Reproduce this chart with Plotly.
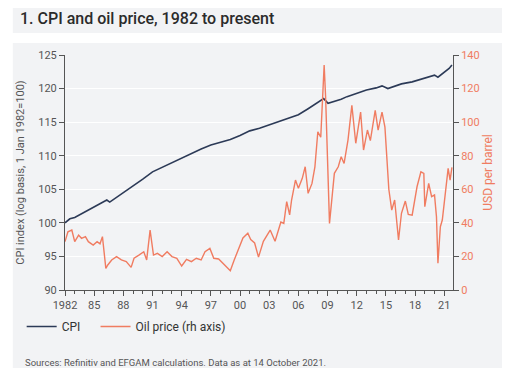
import plotly.graph_objects as go

# ---- data ----
cpi_years = [1982.0, 1982.5, 1983.0, 1984.0, 1985.0, 1986.0, 1986.3, 1986.6, 1987.0, 1988.0, 1989.0,
             1990.0, 1991.0, 1992.0, 1993.0, 1994.0, 1995.0, 1996.0, 1997.0, 1998.0, 1999.0,
             2000.0, 2001.0, 2002.0, 2003.0, 2004.0, 2004.5, 2005.0, 2006.0, 2007.0, 2008.0, 2008.6,
             2009.05, 2009.5, 2010.4, 2011.0, 2011.9, 2013.0, 2014.0, 2014.6, 2015.2, 2016.0,
             2016.6, 2017.7, 2019.0, 2020.0, 2020.35, 2021.0, 2021.5, 2021.79]
cpi_values = [100.0, 100.6, 100.8, 101.6, 102.4, 103.2, 103.4, 103.1, 103.5, 104.4, 105.4,
              106.5, 107.6, 108.3, 109.0, 109.7, 110.4, 111.0, 111.6, 112.0, 112.4,
              113.0, 113.7, 114.1, 114.6, 115.1, 115.4, 115.6, 116.1, 117.0, 117.9, 118.5,
              117.8, 118.0, 118.4, 118.8, 119.3, 119.8, 120.1, 120.4, 120.0, 120.4,
              120.7, 121.0, 121.6, 122.0, 121.7, 122.4, 123.0, 123.5]

oil_years = [1982.0, 1982.3, 1982.7, 1983.0, 1983.4, 1983.7, 1984.1, 1984.4, 1984.9, 1985.3, 1985.6,
             1985.85, 1986.2, 1986.4, 1986.8, 1987.3, 1987.8, 1988.3, 1988.8, 1989.1, 1989.6,
             1990.1, 1990.4, 1990.75, 1991.1, 1991.5, 1992.0, 1992.5, 1993.0, 1993.5, 1994.0,
             1994.5, 1995.0, 1995.5, 1996.0, 1996.4, 1996.9, 1997.3, 1997.8, 1998.4, 1999.0,
             1999.4, 1999.9, 2000.3, 2000.8, 2001.1, 2001.5, 2001.9, 2002.4, 2003.1, 2003.6,
             2004.2, 2004.5, 2004.8, 2005.1, 2005.3, 2005.7, 2006.0, 2006.4, 2006.7, 2007.0,
             2007.4, 2007.7, 2008.0, 2008.3, 2008.5, 2008.65, 2008.8, 2009.05, 2009.2, 2009.5,
             2009.7, 2010.1, 2010.4, 2010.7, 2011.1, 2011.5, 2011.7, 2011.9, 2012.4, 2012.7,
             2013.1, 2013.4, 2013.9, 2014.2, 2014.6, 2014.9, 2015.3, 2015.6, 2015.9, 2016.3,
             2016.6, 2017.0, 2017.3, 2017.7, 2018.2, 2018.6, 2018.9, 2019.0, 2019.4, 2019.7,
             2020.0, 2020.2, 2020.35, 2020.6, 2020.8, 2021.1, 2021.4, 2021.6, 2021.79]
oil_prices = [28.8, 34.7, 35.7, 28.8, 32.7, 30.8, 31.8, 28.8, 26.8, 28.8, 27.5,
              31.8, 12.9, 14.9, 17.9, 19.9, 17.9, 16.9, 13.5, 18.9, 20.8,
              22.8, 17.9, 35.7, 20.8, 21.8, 19.9, 22.8, 19.9, 18.9, 14.3,
              18.3, 16.9, 18.9, 17.9, 22.8, 24.8, 18.9, 18.5, 15.0, 11.5,
              17.9, 24.8, 31.0, 33.8, 30.0, 28.0, 19.6, 29.0, 35.7, 29.0,
              40.5, 39.7, 52.6, 44.7, 53.6, 65.5, 60.6, 66.5, 73.4, 57.6,
              63.5, 73.4, 94.3, 91.0, 121.0, 134.0, 115.0, 57.6, 39.7, 57.6,
              69.5, 73.4, 79.4, 75.4, 89.3, 110.0, 97.3, 87.4, 106.0, 83.4,
              95.3, 89.0, 107.0, 95.3, 106.0, 97.0, 60.0, 47.6, 53.6, 29.8,
              45.7, 53.0, 45.0, 44.6, 61.5, 70.4, 69.5, 49.6, 63.5, 55.6,
              56.6, 43.6, 15.9, 37.7, 41.7, 58.6, 72.5, 65.5, 73.0]

tick_years = [1982, 1985, 1988, 1991, 1994, 1997, 2000, 2003, 2006, 2009, 2012, 2015, 2018, 2021]
tick_labels = ["1982", "85", "88", "91", "94", "97", "00", "03", "06", "09", "12", "15", "18", "21"]

NAVY = "#2c3a57"
SALMON = "#f07c61"
PANEL = "#f2f3f5"
FONT = "Roboto"

# page body has an 8px margin: figure is drawn 8px smaller, all coordinates relative to plot area
fig = go.Figure()
fig.add_trace(go.Scatter(x=cpi_years, y=cpi_values, mode="lines", name="CPI",
                         line=dict(color=NAVY, width=1.6), legend="legend"))
fig.add_trace(go.Scatter(x=oil_years, y=oil_prices, mode="lines", name="Oil price (rh axis)",
                         line=dict(color=SALMON, width=1.4), yaxis="y2", legend="legend2"))

W, H = 394, 235  # plot-area size in px
leg_common = dict(orientation="h", y=(290 - 312) / H, xanchor="left", yanchor="top",
                  font=dict(size=12, color="#333", family=FONT), bgcolor="rgba(0,0,0,0)",
                  itemwidth=30)
fig.update_layout(
    width=502, height=374,
    margin=dict(l=51, r=57, t=47, b=92),
    paper_bgcolor="white", plot_bgcolor=PANEL,
    font=dict(family=FONT, size=11, color="#555"),
    showlegend=True,
    legend=dict(x=(15 - 59) / W, **leg_common),
    legend2=dict(x=(90 - 59) / W, **leg_common),
    xaxis=dict(range=[1982, 2021.9], tickvals=tick_years, ticktext=tick_labels,
               showgrid=False, zeroline=False, showline=True, linecolor="#555", linewidth=1,
               ticks="outside", ticklen=5, tickcolor="#555",
               minor=dict(dtick=1, tick0=1982, ticks="outside", ticklen=3, tickcolor="#555", showgrid=False),
               tickfont=dict(size=11, color="#555")),
    yaxis=dict(range=[90, 125], dtick=5, showgrid=True, gridcolor="white", gridwidth=1,
               zeroline=False, showline=True, linecolor="#555", ticks="outside", ticklen=5,
               tickcolor="#555", tickfont=dict(size=11, color="#555"),
               title=dict(text="CPI index (log basis, 1 Jan 1982=100)", font=dict(size=11, color="#555"),
                          standoff=11)),
    yaxis2=dict(range=[0, 140], dtick=20, overlaying="y", side="right", showgrid=False,
                zeroline=False, showline=True, linecolor="#555", ticks="outside", ticklen=5,
                tickcolor="#555", tickfont=dict(size=11, color=SALMON),
                title=dict(text="USD per barrel", font=dict(size=12, color=SALMON), standoff=4)),
    shapes=[
        dict(type="rect", xref="paper", yref="paper", layer="below",
             x0=-53 / W, x1=(506 - 59) / W, y0=(290 - 33) / H, y1=(290 - 4) / H,
             fillcolor=PANEL, line=dict(width=0)),
        dict(type="rect", xref="paper", yref="paper", layer="below",
             x0=-53 / W, x1=(506 - 59) / W, y0=(290 - 368) / H, y1=(290 - 43) / H,
             fillcolor=PANEL, line=dict(width=0)),
    ],
    annotations=[
        dict(text="1. CPI and oil price, 1982 to present", xref="paper", yref="paper",
             x=(11 - 59) / W, y=(290 - 18) / H, xanchor="left", yanchor="middle",
             showarrow=False, font=dict(size=16, color="#2b2b2b", family=FONT, weight=500)),
        dict(text="Sources: Refinitiv and EFGAM calculations. Data as at 14 October 2021.",
             xref="paper", yref="paper", x=(16 - 59) / W, y=(290 - 362) / H,
             xanchor="left", yanchor="middle", showarrow=False,
             font=dict(size=9.5, color="#555", family=FONT)),
    ],
)

fig.write_html("out.html")
